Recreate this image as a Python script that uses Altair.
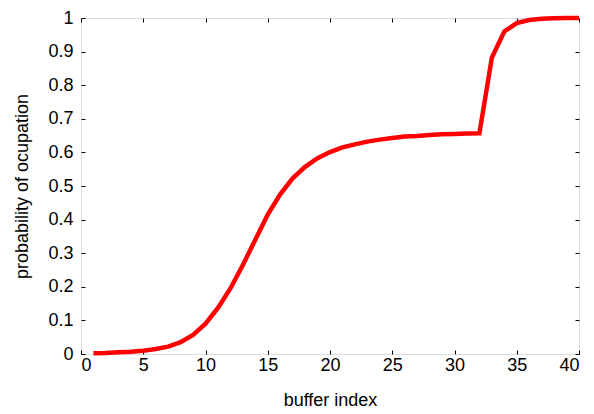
import altair as alt
import pandas as pd

buffer_index = list(range(1, 41))
probability = [
    0.002, 0.003, 0.005, 0.007, 0.010, 0.015, 0.022, 0.035, 0.057, 0.090,
    0.137, 0.195, 0.265, 0.340, 0.415, 0.475, 0.523, 0.557, 0.583, 0.601,
    0.615, 0.624, 0.632, 0.638, 0.643, 0.647, 0.649, 0.652, 0.654, 0.655,
    0.656, 0.657, 0.882, 0.960, 0.985, 0.994, 0.998, 0.999, 1.000, 1.000,
]
x_ticks = [0, 5, 10, 15, 20, 25, 30, 35, 40]
y_ticks = [0, 0.1, 0.2, 0.3, 0.4, 0.5, 0.6, 0.7, 0.8, 0.9, 1.0]

df = pd.DataFrame({"buffer index": buffer_index, "probability": probability})

FONT = "Liberation Sans"
TS = 4

xs = alt.Scale(domain=[0, 40], nice=False, zero=False)
ys = alt.Scale(domain=[0, 1], nice=False)

common = dict(domain=False, grid=False, tickColor="black", tickSize=TS,
              offset=-TS, labelFont=FONT, labelFontSize=18, labelColor="black",
              titleFont=FONT, titleFontSize=18, titleFontWeight="normal",
              titleColor="black")

main = alt.Chart(df).mark_line(color="#ff0000", strokeWidth=4.5).encode(
    x=alt.X("buffer index:Q", scale=xs,
            axis=alt.Axis(orient="bottom", values=x_ticks, format="d",
                          labelPadding=2, titlePadding=17, title="buffer index",
                          **common)),
    y=alt.Y("probability:Q", scale=ys,
            axis=alt.Axis(orient="left", values=y_ticks, format="~g",
                          labelPadding=8, titlePadding=16,
                          title="probability of ocupation", **common)),
)

frame = alt.Chart(df).mark_line(opacity=0).encode(
    x=alt.X("buffer index:Q", scale=xs,
            axis=alt.Axis(orient="top", values=x_ticks, labels=False, title=None,
                          domain=False, grid=False, tickColor="black",
                          tickSize=TS, offset=-TS)),
    y=alt.Y("probability:Q", scale=ys,
            axis=alt.Axis(orient="right", values=y_ticks, labels=False, title=None,
                          domain=False, grid=False, tickColor="black",
                          tickSize=TS, offset=-TS)),
)

chart = alt.layer(frame, main).resolve_axis(
    x="independent", y="independent"
).properties(
    width=498, height=336,
    autosize=alt.AutoSizeParams(type="none"),
    padding={"left": 73, "top": 10, "right": 5, "bottom": 58},
).configure_view(stroke="black", strokeWidth=1.2).configure(background="white")

chart.save("out.html", embed_options={"renderer": "svg", "actions": False})
